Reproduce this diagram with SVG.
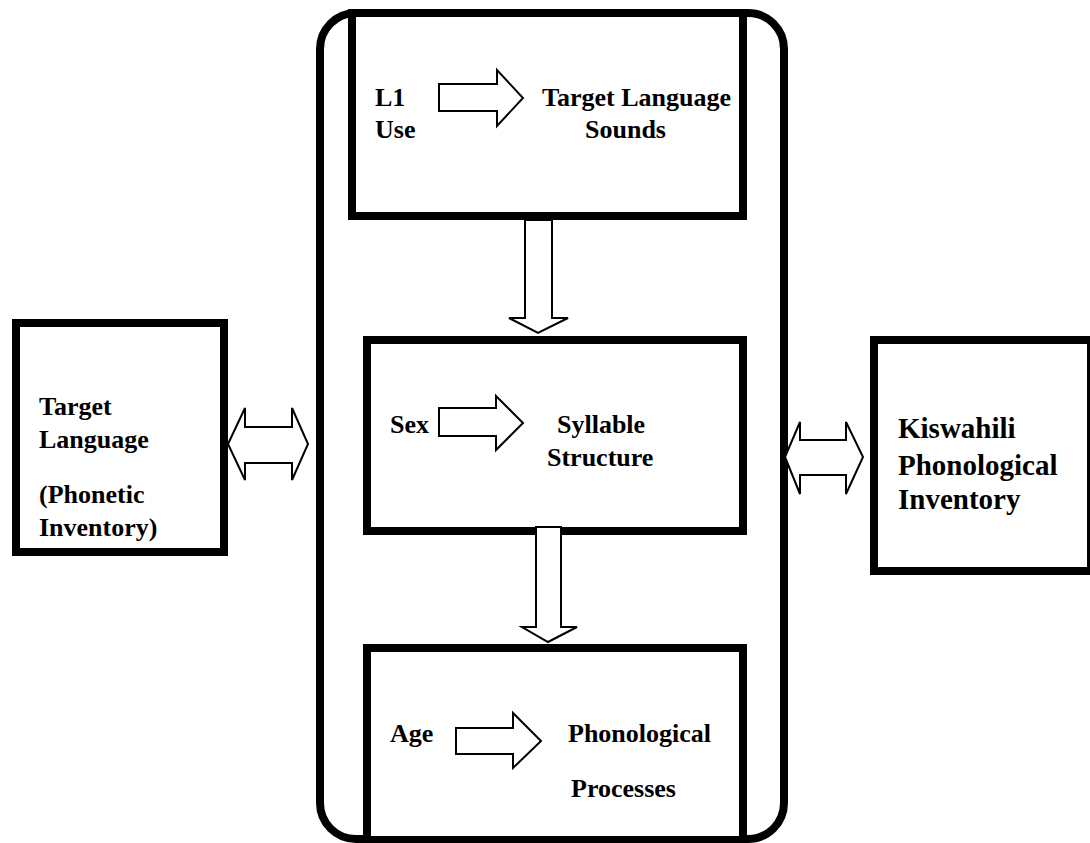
<svg xmlns="http://www.w3.org/2000/svg" width="1090" height="843" viewBox="0 0 1090 843">
<style>
.box{fill:#fff;stroke:#000;stroke-width:8}
.outer{fill:#fff;stroke:#000;stroke-width:8}
.arr{fill:#fff;stroke:#000;stroke-width:2;stroke-linejoin:miter}
text{font-family:"Liberation Serif","Times New Roman",serif;font-weight:bold;font-size:26px;fill:#000}
.big{font-size:29px}
</style>
<rect width="1090" height="843" fill="#fff"/>
<g id="container">
<rect class="outer" x="320" y="13" width="464" height="826" rx="36" ry="36"/>
</g>
<g id="node-l1">
<rect class="box" x="352" y="13" width="391" height="203"/>
<text x="375" y="106">L1</text>
<text x="375" y="138">Use</text>
<text x="542" y="106">Target Language</text>
<text x="585" y="138">Sounds</text>
<polygon class="arr" points="439,84 497,84 497,70 523,98 497,126 497,111 439,111"/>
</g>
<g id="node-sex">
<rect class="box" x="367" y="340" width="376" height="191"/>
<text x="390" y="433">Sex</text>
<text x="557" y="433">Syllable</text>
<text x="547" y="466">Structure</text>
<polygon class="arr" points="439,408 496,408 496,396 523,423 496,450 496,436 439,436"/>
</g>
<g id="node-age">
<rect class="box" x="367" y="648" width="376" height="192"/>
<text x="390" y="742">Age</text>
<text x="568" y="742">Phonological</text>
<text x="571" y="797">Processes</text>
<polygon class="arr" points="456,728 513,728 513,713 541,741 513,768 513,754 456,754"/>
</g>
<g id="node-target">
<rect class="box" x="16" y="323" width="208" height="229"/>
<text x="39" y="415">Target</text>
<text x="39" y="448">Language</text>
<text x="39" y="503">(Phonetic</text>
<text x="39" y="536">Inventory)</text>
</g>
<g id="node-kiswahili">
<rect class="box" x="874" y="340" width="217" height="231"/>
<text class="big" x="898" y="438">Kiswahili</text>
<text class="big" x="898" y="475">Phonological</text>
<text class="big" x="898" y="509">Inventory</text>
</g>
<g id="connectors">
<polygon class="arr" points="525,220 552,220 552,318 568,318 538,333 509,318 525,318"/>
<polygon class="arr" points="536,527 561,527 561,627 577,627 548,642 522,627 536,627"/>
<polygon class="arr" points="228,444 245,408 245,427 292,427 292,408 308,444 292,480 292,463 245,463 245,480"/>
<polygon class="arr" points="785,457 800,422 800,440 846,440 846,422 863,457 846,494 846,475 800,475 800,494"/>
</g>
</svg>
